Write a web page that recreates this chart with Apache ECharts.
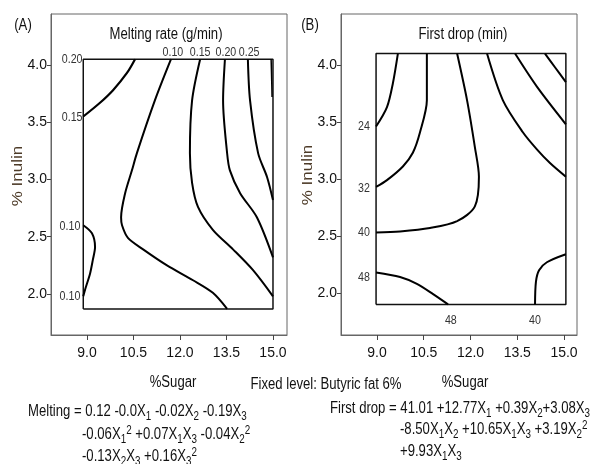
<!DOCTYPE html>
<html>
<head>
<meta charset="utf-8">
<script src="https://cdn.jsdelivr.net/npm/echarts@6/dist/echarts.min.js"></script>
<style>
  html, body { margin: 0; padding: 0; background: #fff; }
  #chart { width: 593px; height: 464px; }
</style>
</head>
<body>
<div id="chart"></div>
<script>
// tick values
const sugarTicks = [9.0, 10.5, 12.0, 13.5, 15.0];
const inulinTicks = [2.0, 2.5, 3.0, 3.5, 4.0];

// design region (inner box) [xmin, xmax, ymin, ymax]
const boxA = [8.88, 15.0, 1.87, 4.05];
const boxB = [8.97, 15.06, 1.90, 4.10];

// (A) Melting rate contours, [sugar, inulin]
const meltTopLeft = [[10.55, 4.05], [10.29, 3.93], [9.84, 3.78], [9.42, 3.67], [8.88, 3.55]];
const melt010 = [[11.71, 4.05], [11.19, 3.69], [10.61, 3.23], [10.45, 3.08], [10.23, 2.88], [10.10, 2.67],
  [10.13, 2.60], [10.32, 2.49], [10.81, 2.39], [11.58, 2.25], [12.42, 2.12], [13.06, 2.01], [13.52, 1.87]];
const melt015 = [[12.65, 4.05], [12.39, 3.69], [12.32, 3.23], [12.39, 2.97], [12.58, 2.76], [13.06, 2.56],
  [13.71, 2.39], [14.35, 2.21], [15.0, 1.98]];
const melt020 = [[13.45, 4.05], [13.39, 3.69], [13.52, 3.23], [13.61, 3.08], [13.94, 2.88], [14.48, 2.67], [15.0, 2.32]];
const melt025 = [[14.19, 4.05], [14.26, 3.69], [14.52, 3.23], [14.81, 3.02], [15.0, 2.82]];
const melt030 = [[14.94, 4.05], [14.96, 3.85], [14.97, 3.72]];
const meltLeftBump = [[8.88, 2.60], [9.16, 2.53], [9.26, 2.41], [9.19, 2.30], [9.10, 2.18], [8.94, 2.04], [8.88, 1.98]];

// (B) First drop contours
const drop24 = [[9.67, 4.10], [9.51, 3.84], [9.32, 3.63], [8.97, 3.46]];
const drop32 = [[10.60, 4.10], [10.60, 3.69], [10.38, 3.41], [10.15, 3.23], [9.83, 3.11], [9.32, 2.99], [8.97, 2.93]];
const drop40 = [[11.57, 4.10], [11.89, 3.69], [12.14, 3.28], [12.27, 3.02], [12.14, 2.76], [11.57, 2.63],
  [10.70, 2.57], [9.74, 2.54], [8.97, 2.53]];
const dropR1 = [[12.53, 4.10], [13.04, 3.69], [13.68, 3.41], [14.13, 3.26], [14.55, 3.14], [15.06, 3.02]];
const dropR2 = [[13.43, 4.10], [14.13, 3.81], [15.06, 3.48]];
const dropR3 = [[14.39, 4.10], [14.71, 3.98], [15.06, 3.85]];
const drop48 = [[8.97, 2.18], [9.74, 2.14], [10.28, 2.08], [10.80, 1.99], [11.28, 1.90]];
const drop40b = [[14.07, 1.90], [14.10, 2.10], [14.20, 2.20], [14.45, 2.27], [15.06, 2.34]];

// contour labels
const labelsA = [
  { name: '0.20', value: [8.52, 4.05] }, { name: '0.15', value: [8.52, 3.54] },
  { name: '0.10', value: [8.45, 2.59] }, { name: '0.10', value: [8.45, 1.98] },
  { name: '0.10', value: [11.77, 4.11] }, { name: '0.15', value: [12.65, 4.11] },
  { name: '0.20', value: [13.48, 4.11] }, { name: '0.25', value: [14.23, 4.11] }
];
const labelsB = [
  { name: '24', value: [8.58, 3.46] }, { name: '32', value: [8.58, 2.92] },
  { name: '40', value: [8.58, 2.53] }, { name: '48', value: [8.58, 2.14] },
  { name: '48', value: [11.37, 1.76] }, { name: '40', value: [14.07, 1.76] }
];

const FONT = "'Liberation Sans', Arial, sans-serif";
const SX = 0.82; // the original figure is squeezed sideways

function boxPath(b) {
  return [[b[0], b[2]], [b[0], b[3]], [b[1], b[3]], [b[1], b[2]], [b[0], b[2]]];
}

function xAxisFor(i, min, max) {
  return {
    gridIndex: i, type: 'value', min: min, max: max,
    splitLine: { show: false },
    axisLine: { show: true, onZero: false, lineStyle: { color: '#666', width: 1 } },
    axisTick: { show: true, customValues: sugarTicks, length: 5, lineStyle: { color: '#444' } },
    axisLabel: { customValues: sugarTicks, formatter: v => v.toFixed(1), fontSize: 14, color: '#111', fontFamily: FONT, margin: 11 }
  };
}
function yAxisFor(i, min, max) {
  return {
    gridIndex: i, type: 'value', min: min, max: max,
    splitLine: { show: false },
    axisLine: { show: true, onZero: false, lineStyle: { color: '#666', width: 1 } },
    axisTick: { show: true, customValues: inulinTicks, length: 4, lineStyle: { color: '#444' } },
    axisLabel: { customValues: inulinTicks, formatter: v => v.toFixed(1), fontSize: 14, color: '#111', fontFamily: FONT, margin: 4 }
  };
}

function contour(data, i, w) {
  return {
    type: 'line', xAxisIndex: i, yAxisIndex: i, data: data,
    symbol: 'none', smooth: 0.3, silent: true,
    lineStyle: { color: '#000', width: w || 2 }
  };
}
function box(b, i) {
  return {
    type: 'line', xAxisIndex: i, yAxisIndex: i, data: boxPath(b),
    symbol: 'none', silent: true, lineStyle: { color: '#111', width: 1.5 }
  };
}

function txt(x, y, text, opts) {
  opts = opts || {};
  return {
    type: 'text', x: x, y: y, silent: true,
    rotation: opts.rotation || 0,
    scaleX: opts.rotation ? 1 : SX,
    scaleY: opts.rotation ? SX : 1,
    style: Object.assign({
      text: text, fill: '#111', font: '16px ' + FONT,
      textAlign: 'center', textVerticalAlign: 'middle'
    }, opts.style || {})
  };
}

const rich = {
  t: { fontSize: 16, fontFamily: FONT, lineHeight: 21, verticalAlign: 'middle', color: '#111' },
  s: { fontSize: 12, fontFamily: FONT, lineHeight: 12, verticalAlign: 'bottom', color: '#111' },
  p: { fontSize: 12, fontFamily: FONT, lineHeight: 12, verticalAlign: 'top', color: '#111' }
};
// write X_1 as subscript, ^2 as superscript
function formula(x, y, str) {
  const parts = str.replace(/_(\d)/g, '\u0001s|$1\u0002').replace(/\^(\d)/g, '\u0001p|$1\u0002');
  let out = '';
  parts.split(/(\u0001[sp]\|\d\u0002)/).forEach(seg => {
    if (!seg) return;
    if (seg[0] === '\u0001') out += '{' + seg.slice(1, -1) + '}';
    else out += '{t|' + seg + '}';
  });
  return {
    type: 'text', x: x, y: y, silent: true, scaleX: SX,
    style: { text: out, rich: rich, textAlign: 'left', textVerticalAlign: 'middle', fill: '#111', font: '16px ' + FONT }
  };
}

const chart = echarts.init(document.getElementById('chart'), null, { renderer: 'canvas' });
chart.setOption({
  animation: false,
  backgroundColor: '#fff',
  grid: [
    { left: 51, top: 14, width: 236, height: 321, show: true, borderColor: '#666', borderWidth: 1 },
    { left: 341, top: 14, width: 236, height: 321, show: true, borderColor: '#666', borderWidth: 1 }
  ],
  xAxis: [xAxisFor(0, 7.839, 15.452), xAxisFor(1, 7.845, 15.417)],
  yAxis: [yAxisFor(0, 1.642, 4.445), yAxisFor(1, 1.632, 4.447)],
  series: [
    box(boxA, 0),
    contour(meltTopLeft, 0, 2.2), contour(melt010, 0), contour(melt015, 0), contour(melt020, 0),
    contour(melt025, 0), contour(melt030, 0, 1.5), contour(meltLeftBump, 0),
    box(boxB, 1),
    contour(drop24, 1), contour(drop32, 1), contour(drop40, 1), contour(dropR1, 1),
    contour(dropR2, 1), contour(dropR3, 1), contour(drop48, 1), contour(drop40b, 1)
  ]
});

const graphics = [
  txt(23, 26, '(A)'),
  txt(310, 26, '(B)'),
  txt(166, 35, 'Melting rate (g/min)'),
  txt(463, 35, 'First drop (min)'),
  txt(18, 176, '% Inulin', { rotation: Math.PI / 2, style: { font: '17px ' + FONT, fill: '#4d3b28' } }),
  txt(308, 175, '% Inulin', { rotation: Math.PI / 2, style: { font: '17px ' + FONT, fill: '#4d3b28' } }),
  txt(173, 383, '%Sugar'),
  txt(465, 383, '%Sugar'),
  txt(326, 385, 'Fixed level: Butyric fat 6%'),
  formula(28, 412, 'Melting = 0.12 -0.0X_1 -0.02X_2 -0.19X_3'),
  formula(82, 435, '-0.06X_1^2 +0.07X_1X_3 -0.04X_2^2'),
  formula(82, 457, '-0.13X_2X_3 +0.16X_3^2'),
  formula(330, 409, 'First drop = 41.01 +12.77X_1 +0.39X_2+3.08X_3'),
  formula(400, 430, '-8.50X_1X_2 +10.65X_1X_3 +3.19X_2^2'),
  formula(400, 452, '+9.93X_1X_3')
];
// contour value labels, placed through the grid's scales
[[labelsA, 0], [labelsB, 1]].forEach(([list, gi]) => {
  list.forEach(l => {
    const p = chart.convertToPixel({ gridIndex: gi }, l.value);
    graphics.push(txt(p[0], p[1], l.name, { style: { font: '13px ' + FONT, fill: '#333' } }));
  });
});
chart.setOption({ graphic: graphics });
</script>
</body>
</html>
